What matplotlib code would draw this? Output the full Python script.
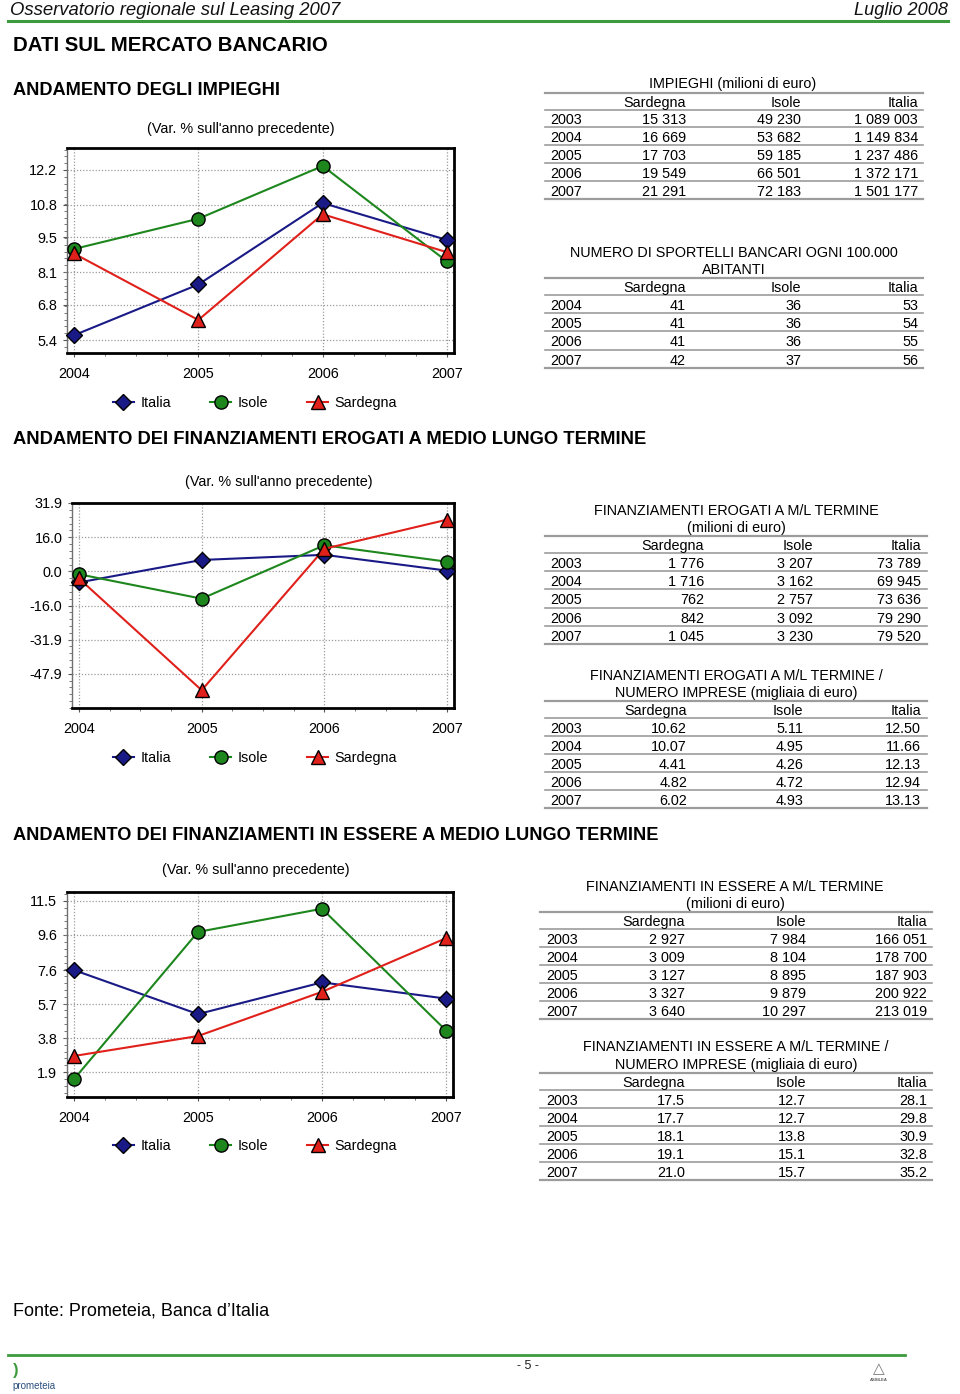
import matplotlib
matplotlib.use('Agg')
import numpy as np
import matplotlib.pyplot as plt
from matplotlib.ticker import FixedLocator
from matplotlib.lines import Line2D

plt.rcParams['font.family'] = ['Liberation Sans', 'DejaVu Sans']

# ---------------- data ----------------
years = [2004, 2005, 2006, 2007]
series_names = ['Italia', 'Isole', 'Sardegna']

# Chart 1: impieghi (var. %)
imp_italia = [5.59, 7.62, 10.88, 9.40]
imp_isole = [9.04, 10.25, 12.36, 8.54]
imp_sardegna = [8.86, 6.20, 10.43, 8.91]
imp_yticks = [5.4, 6.8, 8.1, 9.5, 10.8, 12.2]

# Chart 2: finanziamenti erogati m/l (var. %)
ero_italia = [-5.21, 5.28, 7.68, 0.29]
ero_isole = [-1.40, -12.81, 12.15, 4.46]
ero_sardegna = [-3.38, -55.59, 10.50, 24.11]
ero_yticks = [-47.9, -31.9, -16.0, 0.0, 16.0, 31.9]

# Chart 3: finanziamenti in essere m/l (var. %)
ess_italia = [7.62, 5.15, 6.93, 6.02]
ess_isole = [1.50, 9.76, 11.06, 4.23]
ess_sardegna = [2.80, 3.92, 6.40, 9.41]
ess_yticks = [1.9, 3.8, 5.7, 7.6, 9.6, 11.5]

table_cols = ['Sardegna', 'Isole', 'Italia']
years_5 = ['2003', '2004', '2005', '2006', '2007']
years_4 = ['2004', '2005', '2006', '2007']

impieghi_sardegna = [15313, 16669, 17703, 19549, 21291]
impieghi_isole = [49230, 53682, 59185, 66501, 72183]
impieghi_italia = [1089003, 1149834, 1237486, 1372171, 1501177]

sportelli_sardegna = [41, 41, 41, 42]
sportelli_isole = [36, 36, 36, 37]
sportelli_italia = [53, 54, 55, 56]

erogati_sardegna = [1776, 1716, 762, 842, 1045]
erogati_isole = [3207, 3162, 2757, 3092, 3230]
erogati_italia = [73789, 69945, 73636, 79290, 79520]

erogati_imp_sardegna = [10.62, 10.07, 4.41, 4.82, 6.02]
erogati_imp_isole = [5.11, 4.95, 4.26, 4.72, 4.93]
erogati_imp_italia = [12.50, 11.66, 12.13, 12.94, 13.13]

essere_sardegna = [2927, 3009, 3127, 3327, 3640]
essere_isole = [7984, 8104, 8895, 9879, 10297]
essere_italia = [166051, 178700, 187903, 200922, 213019]

essere_imp_sardegna = [17.5, 17.7, 18.1, 19.1, 21.0]
essere_imp_isole = [12.7, 12.7, 13.8, 15.1, 15.7]
essere_imp_italia = [28.1, 29.8, 30.9, 32.8, 35.2]

# ---------------- figure ----------------
W, H = 960, 1394
fig = plt.figure(figsize=(W / 100, H / 100), dpi=100)
renderer = fig.canvas.get_renderer()


def fx(x):
    return x / W


def fy(y):
    return 1 - y / H


def ptext(x, y, s, **kw):
    return fig.text(fx(x), fy(y), s, **kw)


def fit_text(x, y, s, width, size0=12, **kw):
    t = ptext(x, y, s, fontsize=size0, **kw)
    w = t.get_window_extent(renderer).width
    t.set_fontsize(size0 * width / w)
    return t


GREEN_RULE = '#3d9a3d'
C_ITA = '#1a1a86'
C_ISO = '#1d861d'
C_SAR = '#e0201a'
TXT = 10.4

# header / footer
fit_text(10, 15, 'Osservatorio regionale sul Leasing 2007', 330, style='italic',
         ha='left', va='baseline', color='#111111')
fit_text(948, 15, 'Luglio 2008', 94, style='italic', ha='right', va='baseline',
         color='#111111')
fig.add_artist(Line2D([fx(8), fx(948)], [fy(20.5), fy(20.5)], color=GREEN_RULE, lw=2.2))
fig.add_artist(Line2D([fx(8), fx(905)], [fy(1355), fy(1355)], color=GREEN_RULE, lw=2.0))
ptext(528, 1366, '- 5 -', fontsize=9, ha='center', va='center', color='#222222')
ptext(12, 1386, 'prometeia', fontsize=7, ha='left', va='center', color='#2b4f7e')
ptext(13, 1370, ')', fontsize=12, fontweight='bold', ha='left', va='center', color='#3d9a3d')
ptext(879, 1369, '\u25B3', fontsize=11, ha='center', va='center', color='#777777',
      family=['DejaVu Sans'])
ptext(879, 1380, 'ASSILEA', fontsize=3, ha='center', va='center', color='#555555',
      fontweight='bold')

# section titles
fit_text(13, 51, 'DATI SUL MERCATO BANCARIO', 312, fontweight='bold', ha='left', va='baseline')
fit_text(13, 95, 'ANDAMENTO DEGLI IMPIEGHI', 266, fontweight='bold', ha='left', va='baseline')
fit_text(13, 444, 'ANDAMENTO DEI FINANZIAMENTI EROGATI A MEDIO LUNGO TERMINE', 629,
         fontweight='bold', ha='left', va='baseline')
fit_text(13, 840, 'ANDAMENTO DEI FINANZIAMENTI IN ESSERE A MEDIO LUNGO TERMINE', 643,
         fontweight='bold', ha='left', va='baseline')
fit_text(13, 1316, 'Fonte: Prometeia, Banca d\u2019Italia', 258, ha='left', va='baseline')


# ---------------- charts ----------------
def make_chart(box, xlim, ylim, yticks, data, minor_y_step, subtitle, sub_xy, legend_y):
    left, top, right, bottom = box
    ax = fig.add_axes([fx(left), fy(bottom), (right - left) / W, (bottom - top) / H])
    ita, iso, sar = data
    l1, = ax.plot(years, ita, color=C_ITA, lw=1.5, marker='D', ms=8, mfc=C_ITA,
                  mec='black', mew=1.0, zorder=3, clip_on=False)
    l2, = ax.plot(years, iso, color=C_ISO, lw=1.5, marker='o', ms=9.5, mfc=C_ISO,
                  mec='black', mew=1.0, zorder=4, clip_on=False)
    l3, = ax.plot(years, sar, color=C_SAR, lw=1.5, marker='^', ms=10, mfc=C_SAR,
                  mec='black', mew=1.0, zorder=5, clip_on=False)
    ax.set_xlim(*xlim)
    ax.set_ylim(*ylim)
    ax.set_xticks(years)
    ax.set_xticklabels([str(y) for y in years])
    ax.set_yticks(yticks)
    ax.set_yticklabels([f'{v:.1f}' for v in yticks])
    xminor = [y + q for y in years[:-1] for q in (0.25, 0.5, 0.75)]
    ax.xaxis.set_minor_locator(FixedLocator(xminor))
    ymin_start = yticks[0] - minor_y_step * int((yticks[0] - ylim[0]) / minor_y_step)
    yminor = list(np.arange(ymin_start, ylim[1] + 1e-9, minor_y_step))
    ax.yaxis.set_minor_locator(FixedLocator(yminor))
    ax.tick_params(axis='both', which='major', direction='out', length=3, width=0.8,
                   color='#555555', labelsize=TXT, pad=4)
    ax.tick_params(axis='x', which='major', pad=7)
    ax.tick_params(axis='both', which='minor', direction='out', length=2, width=0.7,
                   color='#777777')
    ax.tick_params(top=False, right=False)
    ax.grid(True, which='major', color='#9a9a9a', ls=(0, (1, 1.5)), lw=0.9)
    ax.set_axisbelow(True)
    for s in ['top', 'right', 'bottom']:
        ax.spines[s].set_linewidth(2.0)
        ax.spines[s].set_color('black')
    ax.spines['left'].set_linewidth(1.0)
    ax.spines['left'].set_color('#707070')
    ptext(sub_xy[0], sub_xy[1], subtitle, fontsize=TXT, ha='center', va='baseline')
    fig.legend([l1, l2, l3], series_names, loc='center',
               bbox_to_anchor=(fx(255), fy(legend_y)), ncol=3, frameon=False,
               fontsize=TXT, handlelength=1.45, handletextpad=0.45, columnspacing=2.7,
               borderaxespad=0, borderpad=0)
    return ax


SUB = "(Var. % sull'anno precedente)"
make_chart((67, 148, 454, 353), (2003.944, 2007.056), (4.88, 13.08), imp_yticks,
           (imp_italia, imp_isole, imp_sardegna), 0.272, SUB, (241, 133), 403)
make_chart((72, 503, 454, 708), (2003.943, 2007.057), (-63.9, 31.9), ero_yticks,
           (ero_italia, ero_isole, ero_sardegna), 3.19, SUB, (278.5, 486), 758)
make_chart((67, 892, 453, 1097), (2003.944, 2007.056), (0.5, 12.0), ess_yticks,
           (ess_italia, ess_isole, ess_sardegna), 0.384, SUB, (255.5, 874), 1146)


# ---------------- tables ----------------
def fmt_int(v):
    return f'{v:,}'.replace(',', ' ')


def draw_table(titles, title_cx, title_ys, x0, x1, top_line, header_y, row0, pitch,
               year_x, rights, row_years, cols, fmt):
    for s, y in zip(titles, title_ys):
        ptext(title_cx, y + 5, s, fontsize=TXT, ha='center', va='baseline')
    lc = '#9c9c9c'
    fig.add_artist(Line2D([fx(x0), fx(x1)], [fy(top_line), fy(top_line)], color=lc, lw=1.6))
    for name, xr in zip(table_cols, rights):
        ptext(xr, header_y + 5, name, fontsize=TXT, ha='right', va='baseline')
    n = len(row_years)
    for i in range(n):
        y = row0 + pitch * i
        yl = y - pitch / 2 - 1
        fig.add_artist(Line2D([fx(x0), fx(x1)], [fy(yl), fy(yl)], color=lc, lw=1.2))
        ptext(year_x, y + 5, row_years[i], fontsize=TXT, ha='left', va='baseline')
        for col, xr in zip(cols, rights):
            ptext(xr, y + 5, fmt(col[i]), fontsize=TXT, ha='right', va='baseline')
    yb = row0 + pitch * (n - 1) + pitch / 2 - 1
    fig.add_artist(Line2D([fx(x0), fx(x1)], [fy(yb), fy(yb)], color=lc, lw=1.6))


draw_table(['IMPIEGHI (milioni di euro)'], 733, [83], 545, 923, 92.5, 102, 119.5, 17.9,
           550, [686, 801, 918], years_5,
           [impieghi_sardegna, impieghi_isole, impieghi_italia], fmt_int)
draw_table(['NUMERO DI SPORTELLI BANCARI OGNI 100.000', 'ABITANTI'], 734, [252, 269],
           545, 923, 277.5, 287, 305, 18.2, 550, [686, 801, 918], years_4,
           [sportelli_sardegna, sportelli_isole, sportelli_italia], fmt_int)
draw_table(['FINANZIAMENTI EROGATI A M/L TERMINE', '(milioni di euro)'], 736, [510, 527],
           545, 927, 536, 545, 563, 18.2, 550, [704, 813, 921], years_5,
           [erogati_sardegna, erogati_isole, erogati_italia], fmt_int)
draw_table(['FINANZIAMENTI EROGATI A M/L TERMINE /', 'NUMERO IMPRESE (migliaia di euro)'],
           736, [675, 692], 545, 927, 700.5, 710, 728, 18.1, 550, [687, 803, 921], years_5,
           [erogati_imp_sardegna, erogati_imp_isole, erogati_imp_italia],
           lambda v: f'{v:.2f}')
draw_table(['FINANZIAMENTI IN ESSERE A M/L TERMINE', '(milioni di euro)'], 735, [886, 903],
           540, 932, 912, 921, 939, 18.1, 546, [685, 806, 927], years_5,
           [essere_sardegna, essere_isole, essere_italia], fmt_int)
draw_table(['FINANZIAMENTI IN ESSERE A M/L TERMINE /', 'NUMERO IMPRESE (migliaia di euro)'],
           736, [1046, 1064], 540, 932, 1073, 1082, 1100, 18.1, 546, [685, 806, 927], years_5,
           [essere_imp_sardegna, essere_imp_isole, essere_imp_italia],
           lambda v: f'{v:.1f}')

fig.savefig('out.png', dpi=100)
